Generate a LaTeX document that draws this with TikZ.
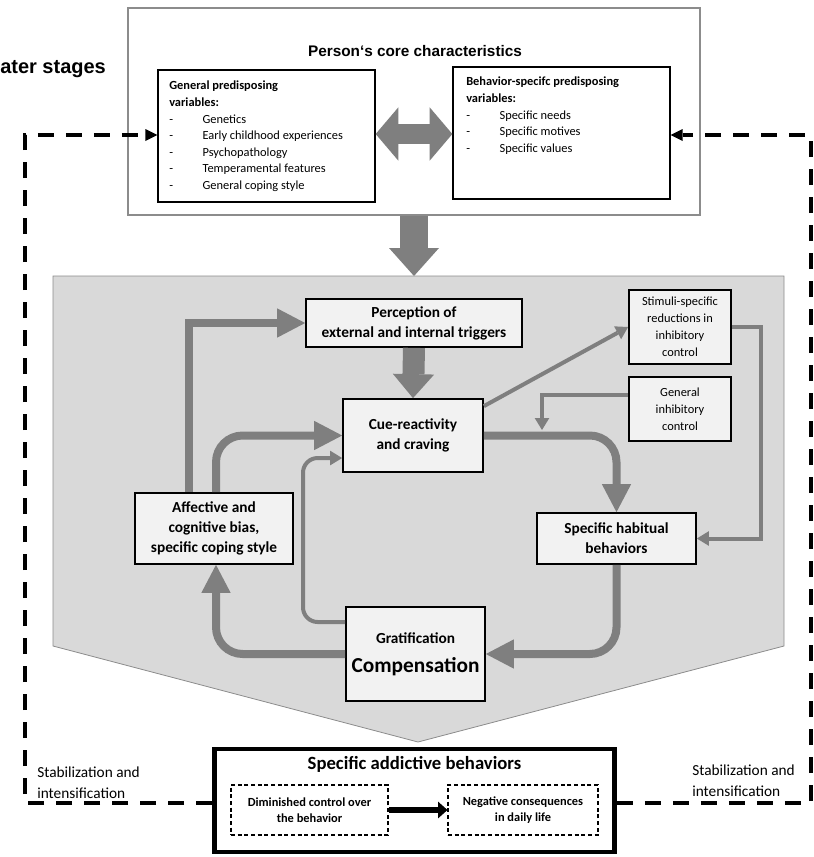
\documentclass[tikz,border=0pt]{standalone}
\usepackage{fontspec}
\setmainfont{Carlito}
\newfontfamily\arialf{Liberation Sans}
\usetikzlibrary{arrows.meta}
\definecolor{arrgray}{HTML}{7F7F7F}
\definecolor{pentfill}{HTML}{D9D9D9}
\definecolor{boxfill}{HTML}{F2F2F2}
\definecolor{edgegray}{HTML}{8C8C8C}
\newcommand\fsz[2]{\fontsize{#1}{#2}\selectfont}
\newcommand\itm[1]{\makebox[25pt][l]{-}#1}
\begin{document}
\begin{tikzpicture}[x=0.75pt,y=-0.75pt,
  gbox/.style={draw=black, line width=1.3pt, fill=boxfill, inner sep=0pt, align=center, font=\bfseries\fsz{11.5}{15}},
  wbox/.style={draw=black, line width=1.3pt, fill=boxfill, inner sep=0pt, align=center, font=\fsz{9.3}{12.75}},
  topbox/.style={draw=black, line width=1pt, fill=white, inner sep=0pt},
  dbox/.style={draw=black, line width=0.8pt, dash pattern=on 3pt off 2pt, fill=white, inner sep=0pt, align=center, font=\bfseries\fsz{9.3}{12}},
  thickarr/.style={draw=arrgray, line width=6pt, -{Triangle[length=21pt,width=22pt,line width=0pt]}},
  thinarr/.style={draw=arrgray, line width=3pt, -{Triangle[length=9pt,width=11pt,line width=0pt]}},
  dashln/.style={draw=black, line width=2.8pt, dash pattern=on 12pt off 9pt},
  lbl/.style={font=\fsz{11.5}{15.75}, align=left, inner sep=0pt},
]
\useasboundingbox (0,0) rectangle (814,857);

% ---------- top part ----------
\node[draw=edgegray, line width=0.8pt, fill=white, minimum width=429pt, minimum height=155.25pt, inner sep=0pt] (outer) at (414,111.5) {};
\node[font=\arialf\bfseries\fsz{11.5}{14}, inner sep=0pt] (title) at (415,51) {Person‘s core characteristics};
\node[anchor=west, font=\arialf\bfseries\fsz{15}{18}, inner sep=0pt] (later) at (0,69) {ater stages};

\node[topbox, minimum width=162.75pt, minimum height=99pt] (lbox) at (266.5,136) {};
\node[topbox, minimum width=162.75pt, minimum height=99pt] (rbox) at (561.5,133) {};

\node[anchor=north west, align=left, inner sep=0pt, font=\fsz{9.3}{12.4}] (ltxt) at (169,81)
  {\textbf{General predisposing}\\\textbf{variables:}\\\itm{Genetics}\\\itm{Early childhood experiences}\\\itm{Psychopathology}\\\itm{Temperamental features}\\\itm{General coping style}};
\node[anchor=north west, align=left, inner sep=0pt, font=\fsz{9.3}{12.4}] (rtxt) at (466,77)
  {\textbf{Behavior-specifc predisposing}\\\textbf{variables:}\\\itm{Specific needs}\\\itm{Specific motives}\\\itm{Specific values}};

\draw[draw=arrgray, line width=15pt, {Triangle[length=17pt,width=40pt,line width=0pt]}-{Triangle[length=17pt,width=40pt,line width=0pt]}] ([yshift=1.5pt]lbox.east) -- ([yshift=-0.75pt]rbox.west);

% ---------- pentagon ----------
\draw[draw=edgegray, fill=pentfill, line width=0.6pt] (53,276) -- (784,276) -- (784,646) -- (418,742) -- (53,646) -- cycle;
\coordinate (ptop) at (414,276);
\draw[draw=arrgray, line width=21pt, -{Triangle[length=21pt,width=37.5pt,line width=0pt]}] (outer.south) -- (ptop);

\node[gbox, minimum width=162pt, minimum height=36pt] (perc) at (414,323) {Perception of\\external and internal triggers};
\node[gbox, minimum width=105pt, minimum height=54.75pt] (cue) at (413,435.5) {Cue-reactivity\\and craving};
\node[wbox, minimum width=76.5pt, minimum height=55.5pt] (stim) at (680,327) {Stimuli-specific\\reductions in\\inhibitory\\control};
\node[wbox, minimum width=76.5pt, minimum height=48pt] (geninh) at (680,409) {General\\inhibitory\\control};
\node[gbox, minimum width=118.5pt, minimum height=53.25pt] (affect) at (214,528.5) {Affective and\\cognitive bias,\\specific coping style};
\node[gbox, minimum width=119.25pt, minimum height=38.25pt] (habit) at (616.5,538.5) {Specific habitual\\behaviors};
\node[gbox, minimum width=104.25pt, minimum height=70.5pt] (grat) at (415.5,654) {Gratification\\[7pt]{\fsz{16}{19}Compensation}};

% connectors
\draw[draw=arrgray, line width=16.5pt, -{Triangle[length=18pt,width=31pt,line width=0pt]}] (perc.south) -- (cue.north);
\draw[thickarr] ([xshift=-18.75pt]affect.north) |- (perc.west);
\draw[thickarr, rounded corners=20pt] ([xshift=1.5pt]affect.north) |- (cue.west);
\draw[thinarr, rounded corners=11pt] ([yshift=24pt]grat.west) -- (303,622) -- (303,458) -- ([yshift=-16.9pt]cue.west);
\draw[thickarr, rounded corners=20pt] (grat.west) -| ([xshift=1.5pt]affect.south);
\draw[thickarr, rounded corners=20pt] (habit.south) |- (grat.east);
\draw[thickarr, rounded corners=20pt] (cue.east) -| (habit.north);
\draw[thinarr] ([yshift=-6pt]cue.north east) -- (stim.west);
\coordinate (gj) at (542,430);
\draw[thinarr] ([yshift=10.5pt]geninh.west) -| (gj);
\draw[thinarr] (stim.east) -- ++(29,0) |- (habit.east);

% ---------- bottom ----------
\node[draw=black, line width=3.5pt, fill=white, minimum width=300pt, minimum height=77.25pt, inner sep=0pt] (bot) at (414.5,800.5) {};
\node[font=\bfseries\fsz{14}{17}, inner sep=0pt] (bottitle) at (414.5,764) {Specific addictive behaviors};
\node[dbox, minimum width=117.75pt, minimum height=37.5pt] (dim) at (309.5,810) {Diminished control over\\the behavior};
\node[dbox, minimum width=112.5pt, minimum height=37.5pt] (neg) at (523,810) {Negative consequences\\in daily life};
\draw[line width=3.8pt, -{Triangle[length=7pt,width=12.5pt,line width=0pt]}] (dim.east) -- (neg.west);

\node[lbl, anchor=west] (lstab) at (37,783) {Stabilization and\\intensification};
\node[lbl, anchor=west] (rstab) at (692,781) {Stabilization and\\intensification};

% dashed feedback lines
\coordinate (dl) at (25,135);
\coordinate (dr) at (811,135);
\draw[dashln, -{Triangle[length=9pt,width=9pt,line width=0pt]}] ([yshift=-1.9pt]bot.west) -| (dl) -- (lbox.west |- dl);
\draw[dashln, -{Triangle[length=9pt,width=9pt,line width=0pt]}] ([yshift=-1.9pt]bot.east) -| (dr) -- (rbox.east |- dr);
\end{tikzpicture}
\end{document}
